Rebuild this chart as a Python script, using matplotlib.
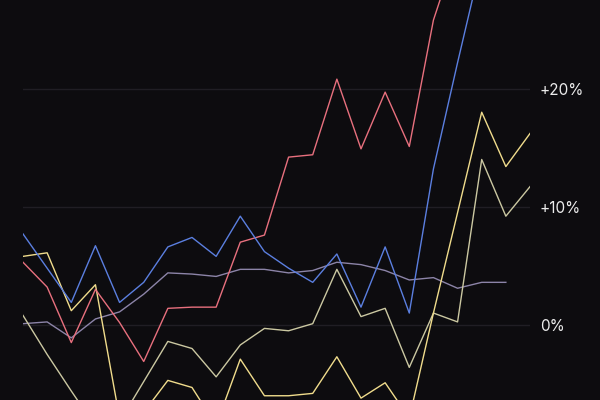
import matplotlib
matplotlib.use('Agg')
import matplotlib.pyplot as plt
import numpy as np

# values in percent, one per period
blue = [7.7, 4.8, 1.9, 6.7, 1.9, 3.6, 6.6, 7.4, 5.8, 9.2, 6.2, 4.8, 3.6, 6.0, 1.5, 6.6, 1.0, 13.2, 22.2, 30.9, 38.0, 44.0]
red = [5.3, 3.2, -1.5, 3.0, 0.2, -3.1, 1.4, 1.5, 1.5, 7.0, 7.6, 14.2, 14.4, 20.8, 14.9, 19.7, 15.1, 25.8, 32.0, 36.0, 40.0, 45.0]
grey = [0.1, 0.25, -1.1, 0.5, 1.1, 2.6, 4.4, 4.3, 4.1, 4.7, 4.7, 4.4, 4.6, 5.3, 5.1, 4.6, 3.8, 4.0, 3.1, 3.6, 3.6]
yellow = [5.8, 6.1, 1.2, 3.4, -7.9, -7.4, -4.7, -5.3, -8.5, -2.9, -6.0, -6.0, -5.8, -2.7, -6.2, -4.9, -7.9, 1.0, 9.5, 18.0, 13.4, 16.2]
pale = [0.8, -2.5, -5.6, -8.6, -8.2, -4.8, -1.4, -2.0, -4.4, -1.7, -0.3, -0.5, 0.1, 4.7, 0.7, 1.4, -3.6, 1.0, 0.25, 14.0, 9.2, 11.7]

tick_vals = [0, 10, 20]
tick_labels = ['0%', '+10%', '+20%']

bg = '#0d0c0f'
fig = plt.figure(figsize=(6, 4), dpi=100, facecolor=bg)
ax = fig.add_axes([23 / 600, 0, 507 / 600, 1])
ax.set_facecolor(bg)

series = [
    (grey, '#8c84a8'),
    (pale, '#cbc8a2'),
    (yellow, '#f0dc8c'),
    (red, '#e8707e'),
    (blue, '#5b7fe0'),
]
for vals, col in series:
    ax.plot(np.arange(len(vals)), vals, color=col, lw=1.0)

ax.set_xlim(0, 21)
ax.set_ylim(-6.36, 27.5)
ax.set_yticks(tick_vals)
ax.set_yticklabels(tick_labels)
ax.yaxis.tick_right()
ax.tick_params(axis='y', length=0, pad=7, labelsize=11, labelcolor='#ececec')
for lab in ax.get_yticklabels():
    lab.set_family(['Inter', 'DejaVu Sans'])
ax.set_xticks([])
ax.grid(axis='y', color='#201e24', lw=1.0)
ax.set_axisbelow(True)
for s in ax.spines.values():
    s.set_visible(False)

plt.savefig('out.png', dpi=100, facecolor=bg)
